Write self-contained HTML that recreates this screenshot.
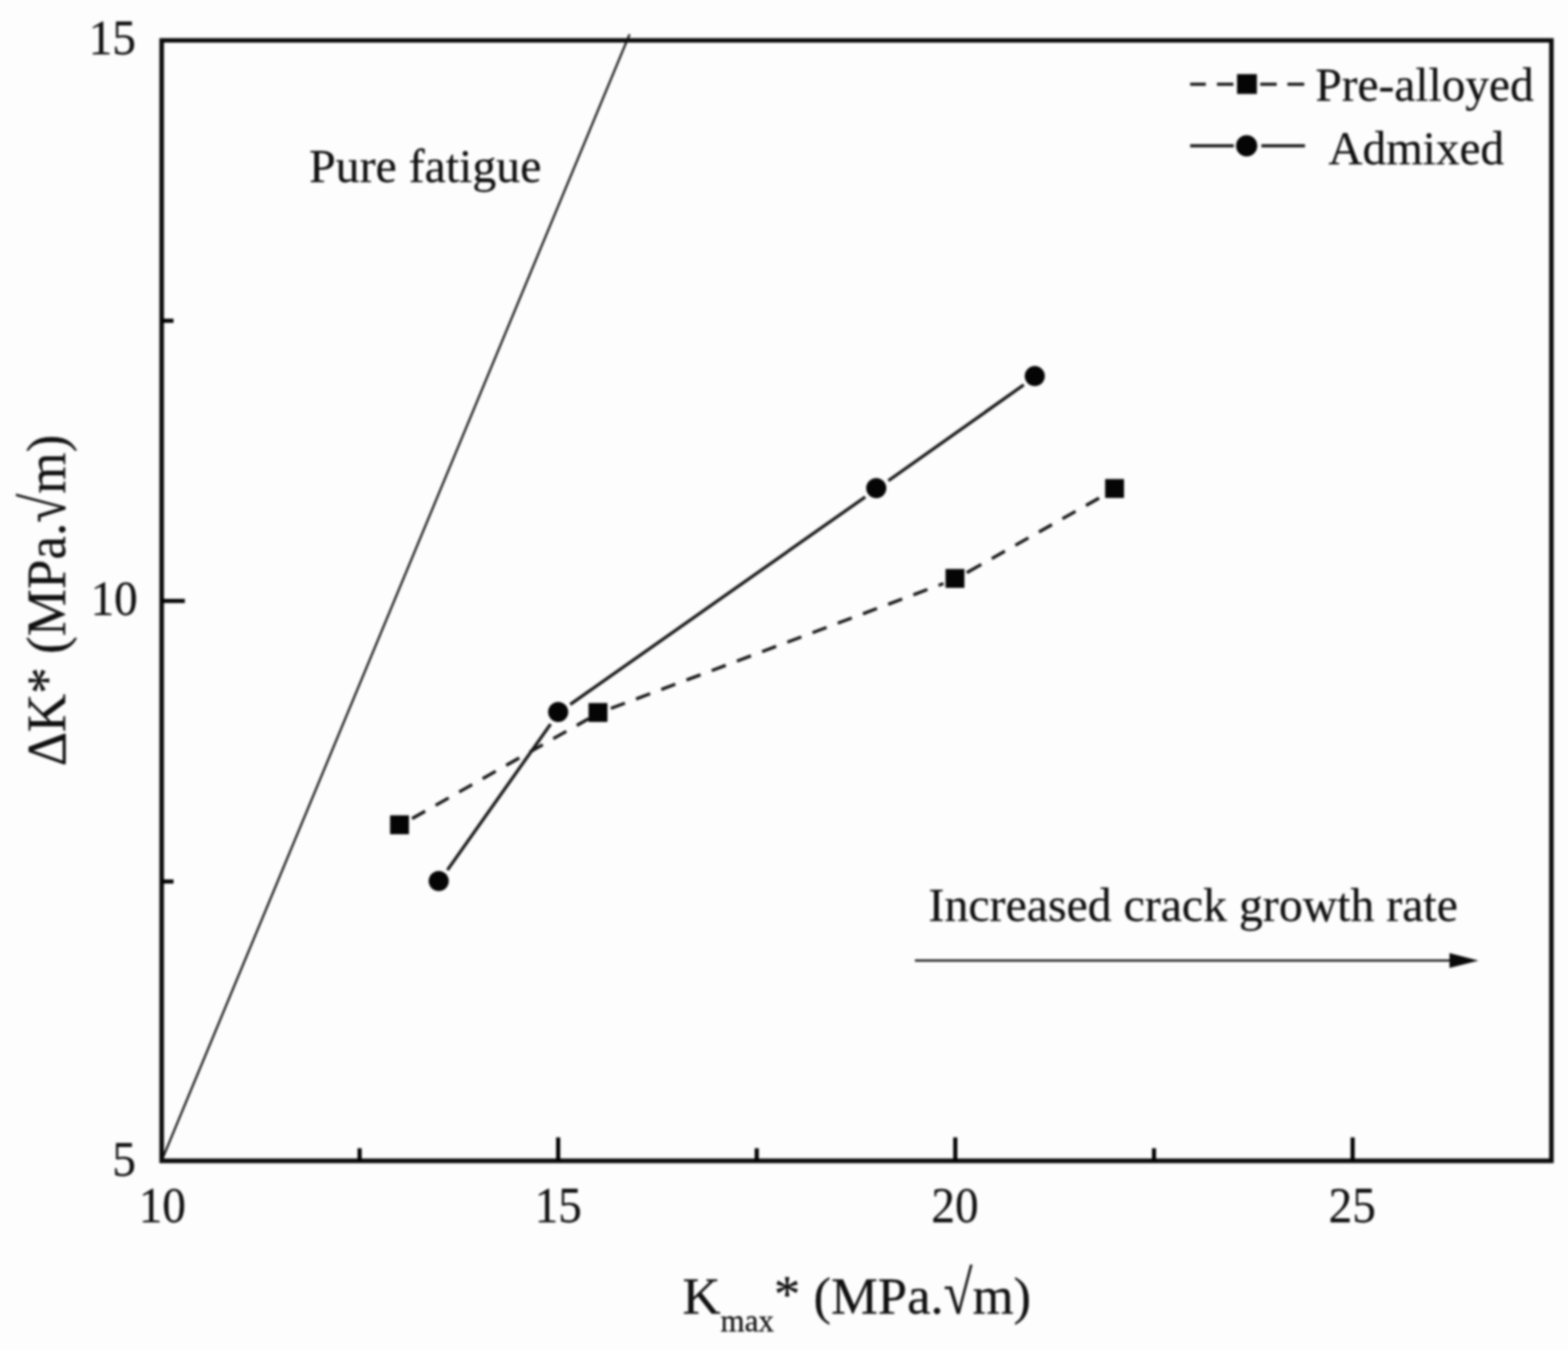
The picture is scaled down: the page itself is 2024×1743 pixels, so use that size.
<!DOCTYPE html>
<html lang="en">
<head>
<meta charset="utf-8">
<title>Crack growth map: ΔK* versus Kmax*</title>
<style>
html,body{margin:0;padding:0;background:#fdfdfd;}
body{width:2024px;height:1743px;overflow:hidden;position:relative;}
svg{display:block;position:absolute;left:0;top:0;}
text{font-family:"Liberation Serif","DejaVu Serif",serif;fill:#101010;stroke:#101010;stroke-width:0.3px;stroke-linejoin:round;}
.tick{font-size:65.5px;}
.lab{font-size:61.7px;}
.ax{font-size:68px;}
.axy{font-size:68.5px;}
.sub{font-size:40px;}
.ln{fill:none;stroke:#161616;stroke-width:4.1;}
.mk{fill:#050505;}
</style>
</head>
<body>
<svg width="2024" height="1743" viewBox="0 0 2024 1743">
<defs><filter id="soft" x="-2%" y="-2%" width="104%" height="104%" color-interpolation-filters="sRGB"><feGaussianBlur stdDeviation="1.45"/></filter></defs>
<rect x="0" y="0" width="2024" height="1743" fill="#fdfdfd"/>
<g filter="url(#soft)">
<rect x="-20" y="-20" width="2064" height="1783" fill="#fdfdfd"/>

<g fill="none" stroke="#0b0b0b" stroke-width="5.9" stroke-linecap="square">
<path d="M208.7 52.1V1498.7 M208.7 1498.7H2002.6 M2002.6 1498.7V52.1 M2002.6 52.1H208.7"/>
</g>
<g fill="none" stroke="#000" stroke-width="5.3">
<path d="M208.7 775.8H238.6 M208.7 414.2H224 M208.7 1138.2H224"/>
<path d="M720.5 1498.7V1468.5 M1233.1 1498.7V1468.5 M1746.0 1498.7V1468.5 M464.2 1498.7V1482.5 M976.8 1498.7V1482.5 M1489.6 1498.7V1482.5"/>
</g>
<path d="M208.6 1498.7L812.7 44.2" fill="none" stroke="#111" stroke-width="2.7"/>
<g class="ln">
<path d="M531.9 1056.9L759.9 927.9" stroke-dasharray="19.4 15.5"/>
<path d="M788.5 914.7L1217.9 753.4" stroke-dasharray="19.4 15.36"/>
<path d="M1247.9 739.4L1424.6 639.8" stroke-dasharray="21.6 15.5 19.4 15.5 19.4 15.5 19.4 15.5 19.4 15.5 19.4 15.5 19.4 15.5 19.4 15.5 19.4 15.5"/>
</g>
<g class="ln">
<path d="M577.5 1123.4L710.7 934.9"/>
<path d="M736.1 909.5L1116.9 641.6"/>
<path d="M1146.7 620.6L1321.5 496.9"/>
</g>
<g class="mk">
<rect x="503.5" y="1052.7" width="24.4" height="24.4"/>
<rect x="759.7" y="907.7" width="24.4" height="24.4"/>
<rect x="1220.5" y="734.6" width="24.4" height="24.4"/>
<rect x="1426.5" y="618.5" width="24.4" height="24.4"/>
<circle cx="566.3" cy="1137.5" r="13.0"/>
<circle cx="720.5" cy="919.2" r="13.0"/>
<circle cx="1131.1" cy="630.3" r="13.0"/>
<circle cx="1335.7" cy="485.6" r="13.0"/>
</g>
<g>
<path class="ln" stroke-width="4.2" d="M1536.3 108.8H1556.5 M1570.9 108.8H1592.1 M1626.7 108.8H1648 M1661.8 108.8H1683.5"/>
<rect class="mk" x="1596.8" y="95.7" width="25.6" height="25.6"/>
<path class="ln" stroke-width="4.2" d="M1536.3 188.3H1592.6 M1628.2 188.3H1684.5"/>
<circle class="mk" cx="1609.2" cy="188.2" r="13.7"/>
<text class="lab" style="font-size:61.15px" x="1698" y="130">Pre-alloyed</text>
<text class="lab" style="font-size:60.9px" x="1714.8" y="211.6">Admixed</text>
</g>
<text class="lab" x="399" y="235.4">Pure fatigue</text>
<text class="lab" x="1198.6" y="1189.4">Increased crack growth rate</text>
<path d="M1181 1240.2H1876" fill="none" stroke="#111" stroke-width="2.7"/>
<path d="M1908.5 1240.2L1871 1230.6V1249.8Z" fill="#0a0a0a"/>
<g class="tick">
<text transform="translate(177.8 793.6) scale(0.93 0.952)" text-anchor="end">10</text>
<text transform="translate(175.4 70.4) scale(0.93 0.952)" text-anchor="end">15</text>
<text transform="translate(175.4 1518.0) scale(0.93 0.952)" text-anchor="end">5</text>
<text transform="translate(209.6 1577.8) scale(0.93 1)" text-anchor="middle">10</text>
<text transform="translate(720.6 1577.8) scale(0.93 1)" text-anchor="middle">15</text>
<text transform="translate(1232.8 1577.8) scale(0.93 1)" text-anchor="middle">20</text>
<text transform="translate(1745.4 1577.8) scale(0.93 1)" text-anchor="middle">25</text>
</g>
<text class="axy" transform="translate(84.4 989.2) rotate(-90) scale(1 1.06)" x="0" y="0">ΔK* (MPa.<tspan font-size="75.35" textLength="37.60" lengthAdjust="spacingAndGlyphs">√</tspan>m)</text>
<text class="ax" x="881.0" y="1695.6">K<tspan class="sub" dy="23">max</tspan><tspan dy="-25.6">*</tspan><tspan dy="2.6"> (MPa.</tspan><tspan font-size="79.56" textLength="37.33" lengthAdjust="spacingAndGlyphs">√</tspan>m)</text>
</g>
</svg>
</body>
</html>
